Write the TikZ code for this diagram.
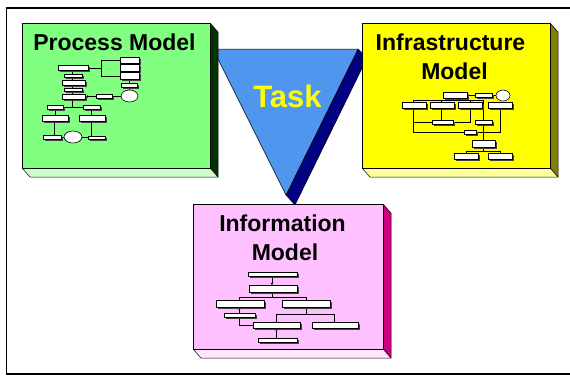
\documentclass[tikz,border=0pt]{standalone}
\usepackage{fontspec}
\setmainfont{Liberation Sans}
\usetikzlibrary{arrows.meta}
\definecolor{grnface}{HTML}{80FF80}
\definecolor{grnside}{HTML}{003300}
\definecolor{grnbot}{HTML}{CCFFCC}
\definecolor{yelface}{HTML}{FFFF00}
\definecolor{yelside}{HTML}{808000}
\definecolor{yelbot}{HTML}{FFFF99}
\definecolor{pnkface}{HTML}{FFC0FF}
\definecolor{pnkside}{HTML}{CC0080}
\definecolor{pnkbot}{HTML}{FFE6FF}
\definecolor{triblue}{HTML}{5096EE}
\definecolor{trishade}{HTML}{000080}
\definecolor{minishd}{HTML}{444444}
\tikzset{
  edge3d/.style={draw=black,line width=0.5pt,line join=round},
  title/.style={font=\bfseries\fontsize{23}{23}\selectfont,anchor=base,inner sep=0pt},
  tasklbl/.style={font=\bfseries\fontsize{31}{31}\selectfont,text=yelface,anchor=base,inner sep=0pt},
  wire/.style={draw=black,line width=0.75pt},
  arr/.style={wire,-{Stealth[length=2.5pt,width=2.5pt]}},
  oval/.style={fill=white,draw=black,line width=0.6pt}
}
\newcommand\mbx[4]{%
  \fill[minishd] (#1+1.6,#2+1.6) rectangle (#3+1.6,#4+1.6);
  \filldraw[fill=white,draw=black,line width=0.5pt] (#1,#2) rectangle (#3,#4);}
\newcommand\boxthree[5]{%
  \fill[#5side,edge3d] (#3,#2) -- (#3+8,#2+9) -- (#3+8,#4+9) -- (#3,#4) -- cycle;
  \fill[#5bot,edge3d] (#1,#4) -- (#3,#4) -- (#3+8,#4+9) -- (#1+8,#4+9) -- cycle;
  \fill[#5face,edge3d] (#1,#2) rectangle (#3,#4);}
\begin{document}
\begin{tikzpicture}[x=1pt,y=-1pt]
\useasboundingbox (0,0) rectangle (570,376);
\fill[white] (0,0) rectangle (570,376);
\begin{scope}
\clip (0,0) rectangle (570,376);
\draw[line width=1.8pt] (6.5,8) rectangle (590,374);
\end{scope}

% Task triangle
\fill[trishade,edge3d] (358,49) -- (367,58) -- (295,205) -- (286,195) -- cycle;
\fill[triblue,edge3d] (213,49) -- (358,49) -- (286,195) -- cycle;
\node[tasklbl] (task) at (287.5,107) {Task};

% three boxes
\boxthree{22}{23}{210}{168}{grn}
\boxthree{362}{23}{550}{168}{yel}
\boxthree{193}{204}{383}{349}{pnk}

\node[title] (pm) at (114.5,50) {Process Model};
\node[title] (im1) at (450.5,50.5) {Infrastructure};
\node[title] (im2) at (454.5,79) {Model};
\node[title] (nm1) at (282.5,231) {Information};
\node[title] (nm2) at (285,260) {Model};

% ---- Process model mini chart
\draw[wire] (88,68) -- (101,68) (101,60) -- (101,76) (101,60) -- (120,60) (101,76) -- (120,76);
\draw[wire] (72.5,70) -- (72.5,107) (63,107) -- (83,107);
\draw[wire] (129,79) -- (129,90);
\draw[arr] (121,96.5) -- (85.5,96.5);
\draw[wire] (55,109) -- (55,115) (91,109) -- (91,115);
\draw[wire] (54,121) -- (54,136) (91,121) -- (91,136);
\draw[wire] (61,137.5) -- (88,137.5);
\mbx{58}{65}{88}{70.5}
\mbx{120}{57}{139}{63}
\mbx{120}{64.5}{139}{71.5}
\mbx{120}{72.5}{139}{79.5}
\mbx{121}{83}{137}{87}
\filldraw[oval] (129.5,96) ellipse [x radius=8.5, y radius=6];
\mbx{64}{74}{82}{77}
\mbx{62}{80.5}{85}{85}
\mbx{64}{88}{82}{91.5}
\mbx{62}{94}{85}{99}
\mbx{96}{94.5}{112}{98}
\mbx{47}{105.5}{63}{109}
\mbx{83}{105.5}{100}{109}
\mbx{42}{115}{68}{121}
\mbx{79}{115}{105}{121}
\mbx{43}{135.5}{61}{139}
\filldraw[oval] (73,137) ellipse [x radius=9, y radius=6];
\mbx{88}{136}{105}{139}

% ---- Infrastructure model mini chart
\draw[wire] (467,95) -- (496,95);
\draw[wire] (455,98) -- (455,100) (413,100) -- (483,100);
\draw[wire] (413,100) -- (413,132) -- (500,132) -- (500,108);
\draw[wire] (441,100) -- (441,120);
\draw[wire] (470,100) -- (470,122) -- (413,122);
\draw[wire] (483,100) -- (483,140) (483,147) -- (483,151) (466,151) -- (500,151) (466,151) -- (466,153) (500,151) -- (500,153);
\mbx{443}{92}{467}{98}
\mbx{475}{93.5}{492}{97}
\filldraw[oval] (503,95.5) ellipse [x radius=7, y radius=5.5];
\mbx{402}{102}{426}{108}
\mbx{430}{102}{454}{108}
\mbx{458}{102}{482}{108}
\mbx{488}{102}{512}{108}
\mbx{432}{120}{453}{124}
\mbx{475}{120}{492}{124}
\mbx{464}{130}{476}{134}
\mbx{472}{140}{495}{147}
\mbx{454}{153}{478}{159}
\mbx{488}{153}{512}{159}

% ---- Information model mini chart
\draw[arr] (272,276) -- (272,285);
\draw[wire] (272,292) -- (272,297) (239,297) -- (306,297) (239,297) -- (239,300) (306,297) -- (306,300);
\draw[arr] (239,313) -- (239,307);
\draw[wire] (239,317) -- (239,325.5) -- (253,325.5);
\draw[wire] (306,307) -- (306,314) (276,314) -- (334,314) (276,314) -- (276,322) (334,314) -- (334,322);
\draw[arr] (276,338) -- (276,328);
\mbx{248}{272}{297}{276}
\mbx{249}{285}{297}{292}
\mbx{216}{300}{264}{307}
\mbx{282}{300}{330}{307}
\mbx{224}{313}{255}{317}
\mbx{253}{322}{300}{328}
\mbx{312}{322}{358}{328}
\mbx{258}{338}{297}{342}
\end{tikzpicture}
\end{document}
